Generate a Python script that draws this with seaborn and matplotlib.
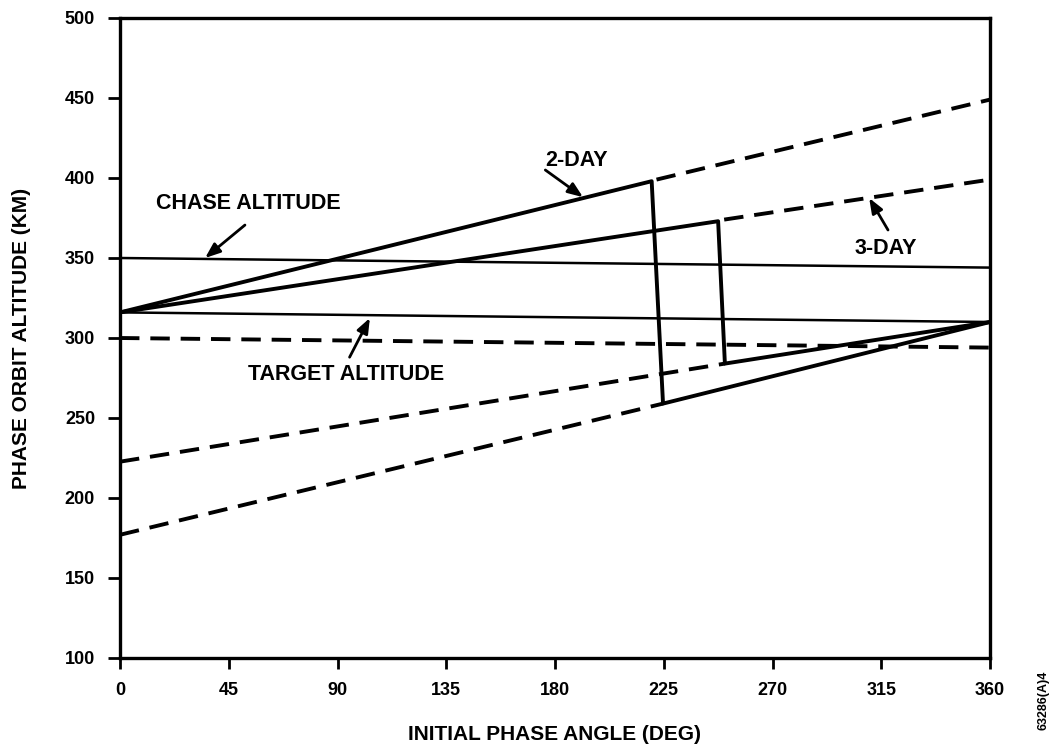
import matplotlib
matplotlib.use("Agg")
import matplotlib.pyplot as plt
import seaborn as sns
import pandas as pd

# ---- data ----
chase_x = [0, 360]
chase_y = [350, 344]
target_x = [0, 360]
target_y = [316, 310]
target_dash_x = [0, 360]
target_dash_y = [300, 294]

two_day_x = [0, 220, 224.7, 360]
two_day_y = [316, 398, 259, 310]
two_day_ext_x = [222, 360]
two_day_ext_y = [399, 449]
two_day_low_x = [0, 224.7]
two_day_low_y = [177, 259]

three_day_x = [0, 247.5, 250.3, 360]
three_day_y = [316, 373, 284, 310]
three_day_ext_x = [250, 360]
three_day_ext_y = [374, 399]
three_day_low_x = [0, 250.3]
three_day_low_y = [222.7, 284]

x_ticks = [0, 45, 90, 135, 180, 225, 270, 315, 360]
y_ticks = [100, 150, 200, 250, 300, 350, 400, 450, 500]

sns.set_style("ticks")
plt.rcParams['font.family'] = ['Liberation Sans', 'DejaVu Sans']
plt.rcParams['font.weight'] = 'bold'
for k in ['text.color', 'axes.labelcolor', 'xtick.color', 'ytick.color', 'axes.edgecolor']:
    plt.rcParams[k] = 'black'

fig = plt.figure(figsize=(10.53, 7.54), dpi=100)
ax = fig.add_axes([120/1053, 96/754, 870/1053, 640/754])

DASH = (5, 2.8)

def seg(x, y, lw, dashed=False):
    df = pd.DataFrame({"x": x, "y": y})
    sns.lineplot(data=df, x="x", y="y", color="black", linewidth=lw,
                 sort=False, estimator=None, ax=ax)
    l = ax.lines[-1]
    if dashed:
        l.set_dashes(DASH)
    l.set_solid_capstyle("butt")
    l.set_dash_capstyle("butt")
    l.set_clip_on(False)

seg(chase_x, chase_y, 1.8)
seg(target_x, target_y, 1.8)
seg(target_dash_x, target_dash_y, 2.8, dashed=True)
seg(two_day_x, two_day_y, 2.8)
seg(two_day_ext_x, two_day_ext_y, 2.8, dashed=True)
seg(two_day_low_x, two_day_low_y, 2.8, dashed=True)
seg(three_day_x, three_day_y, 2.8)
seg(three_day_ext_x, three_day_ext_y, 2.8, dashed=True)
seg(three_day_low_x, three_day_low_y, 2.8, dashed=True)

ax.set_xlim(0, 360)
ax.set_ylim(100, 500)
ax.set_xticks(x_ticks)
ax.set_yticks(y_ticks)
ax.set_xticklabels([str(t) for t in x_ticks], fontsize=13, fontweight='heavy')
ax.set_yticklabels([str(t) for t in y_ticks], fontsize=13, fontweight='heavy')
ax.tick_params(axis='x', direction='out', length=8, width=2, pad=9)
ax.tick_params(axis='y', direction='out', length=9, width=2, pad=9)
for s in ax.spines.values():
    s.set_visible(True)
    s.set_linewidth(2.4)
ax.set_xlabel("INITIAL PHASE ANGLE (DEG)", fontsize=15, fontweight='bold', labelpad=19)
ax.set_ylabel("PHASE ORBIT ALTITUDE (KM)", fontsize=15, fontweight='bold', labelpad=24)

arrow = dict(arrowstyle="-|>,head_length=0.9,head_width=0.35", color="black", lw=2, shrinkA=0, shrinkB=0)
fs = 15.5
ax.annotate("", xy=(35.2, 350), xytext=(51.7, 370.6), arrowprops=arrow)
ax.text(53, 384, "CHASE ALTITUDE", fontsize=fs, fontweight='bold', ha='center', va='center')
ax.annotate("", xy=(103.4, 312.5), xytext=(95, 288), arrowprops=arrow)
ax.text(93.5, 277, "TARGET ALTITUDE", fontsize=fs, fontweight='bold', ha='center', va='center')
ax.annotate("", xy=(191.6, 388), xytext=(176, 405), arrowprops=arrow)
ax.text(189, 411, "2-DAY", fontsize=fs, fontweight='bold', ha='center', va='center')
ax.annotate("", xy=(310, 387.5), xytext=(317.8, 367.5), arrowprops=arrow)
ax.text(317, 356, "3-DAY", fontsize=fs, fontweight='bold', ha='center', va='center')

fig.text(1043/1053, 0.111, "63286(A)4", rotation=90, fontsize=9, fontweight='bold',
         ha='center', va='top')

fig.savefig("out.png", dpi=100, facecolor="white")
